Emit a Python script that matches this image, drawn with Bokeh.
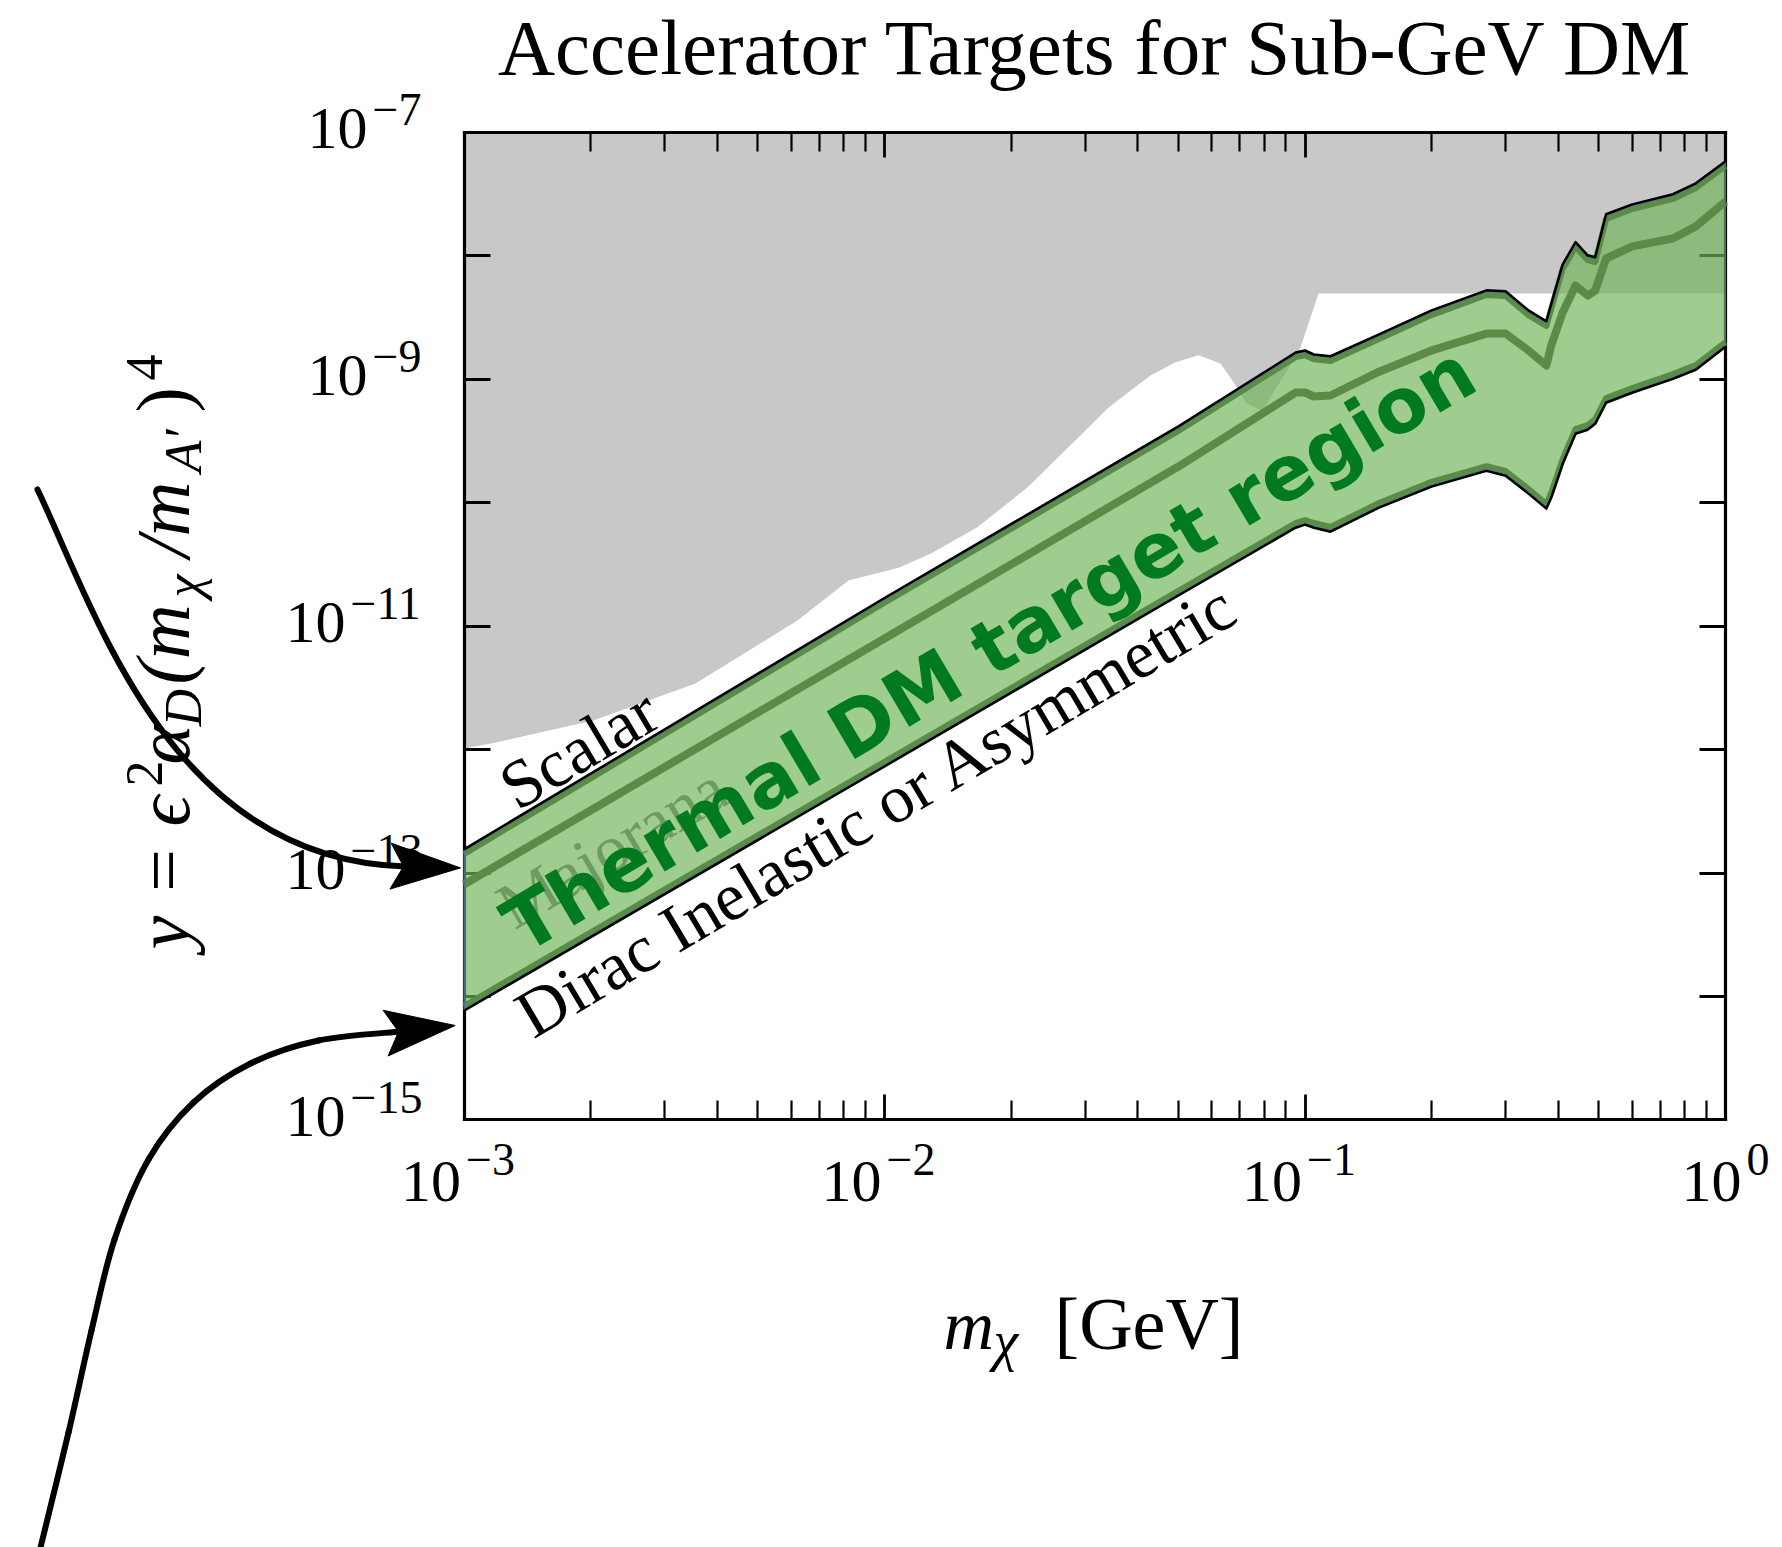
import math

from bokeh.embed import file_html
from bokeh.models import (ColumnDataSource, CustomJSTickFormatter, FixedTicker,
                          Label, LogAxis, Range1d)
from bokeh.plotting import figure
from bokeh.resources import INLINE

# ------------------------------------------------------------------ data
# Dark-matter mass m_chi [GeV]
mass = [0.001, 0.01, 0.05, 0.095, 0.1, 0.105, 0.115, 0.15, 0.2, 0.27, 0.3,
        0.34, 0.375, 0.385, 0.41, 0.44, 0.47, 0.49, 0.52, 0.6, 0.75, 0.85, 1.0]

# Thermal-relic targets y = eps^2 alpha_D (m_chi / m_A')^4
y_scalar = [1.52e-13, 1.65e-11, 4.06e-10, 1.61e-9, 1.67e-9, 1.55e-9, 1.50e-9,
            2.26e-9, 3.53e-9, 5.13e-9, 5.04e-9, 3.53e-9, 2.88e-9, 3.95e-9,
            8.34e-9, 1.26e-8, 9.86e-9, 9.50e-9, 2.12e-8, 2.55e-8, 3.08e-8,
            3.78e-8, 5.69e-8]
y_majorana = [8.07e-14, 7.94e-12, 1.96e-10, 7.80e-10, 7.80e-10, 7.24e-10,
              7.38e-10, 1.15e-9, 1.71e-9, 2.34e-9, 2.34e-9, 1.71e-9, 1.29e-9,
              1.87e-9, 3.47e-9, 5.74e-9, 4.76e-9, 5.22e-9, 9.50e-9, 1.19e-8,
              1.38e-8, 1.73e-8, 2.75e-8]
y_dirac = [7.83e-15, 7.46e-13, 1.81e-11, 6.41e-11, 6.78e-11, 6.41e-11,
           5.95e-11, 9.31e-11, 1.38e-10, 1.85e-10, 1.69e-10, 1.21e-10,
           9.15e-11, 1.12e-10, 2.11e-10, 3.70e-10, 3.98e-10, 4.45e-10,
           6.59e-10, 7.94e-10, 1.03e-9, 1.22e-9, 1.87e-9]

# Lower edge of the region already excluded by accelerator searches
excl_mass = [0.001, 0.00116, 0.00203, 0.00355, 0.00621, 0.00821, 0.01085,
             0.0129, 0.0166, 0.0219, 0.0289, 0.0341, 0.0429, 0.0492, 0.0558,
             0.0630, 0.0684, 0.0726, 0.0792, 0.0970, 0.1077, 1.0]
excl_y = [1.02e-12, 1.12e-12, 1.72e-12, 3.43e-12, 1.11e-11, 2.34e-11,
          2.98e-11, 3.87e-11, 6.29e-11, 1.33e-10, 3.37e-10, 5.90e-10,
          1.07e-9, 1.37e-9, 1.56e-9, 1.34e-9, 8.89e-10, 6.35e-10,
          5.58e-10, 1.71e-9, 4.95e-9, 4.95e-9]

# Axis limits and decades
X_MIN, X_MAX = 1e-3, 1.0
Y_MIN, Y_MAX = 1e-15, 1e-7
x_decades = [-3, -2, -1, 0]
y_decades = list(range(-15, -6))
y_labelled = [-15, -13, -11, -9, -7]

# ------------------------------------------------------------------ layout
W, H = 1782, 1547
PLOT_L, PLOT_R, PLOT_T, PLOT_B = 463.5, 1725.0, 131.8, 1119.4
XDEC = (PLOT_R - PLOT_L) / (math.log10(X_MAX) - math.log10(X_MIN))
YDEC = (PLOT_B - PLOT_T) / (math.log10(Y_MAX) - math.log10(Y_MIN))


def sx(v):
    return PLOT_L + (math.log10(v) - math.log10(X_MIN)) * XDEC


def sy(v):
    return PLOT_T + (math.log10(Y_MAX) - math.log10(v)) * YDEC


def xd(px):
    return 10 ** (math.log10(X_MIN) + (px - PLOT_L) / XDEC)


def yd(py):
    return 10 ** (math.log10(Y_MAX) - (py - PLOT_T) / YDEC)


GREY = "#c8c8c8"
BAND = "#70b358"
DARK = "#5a8c48"
EDGE_BLUE = "#3d68a8"
TEXT_GREEN = "#007a1e"
SERIF = "Liberation Serif"
SANS = "DejaVu Sans"

p = figure(width=W, height=H, x_axis_type="log", y_axis_type="log",
           x_axis_location=None, y_axis_location=None,
           x_range=Range1d(xd(0), xd(W)), y_range=Range1d(yd(H), yd(0)),
           output_backend="svg", toolbar_location=None, min_border=0,
           title=None)
p.outline_line_color = None
p.background_fill_color = "white"
p.border_fill_color = "white"
p.grid.visible = False

# ------------------------------------------------------------------ frame axes
x_minor = [k * 10.0 ** d for d in (-3, -2, -1) for k in range(2, 10)]


def frame_axis(side, loc, bounds, ticks, minor, tick_len):
    ax = LogAxis(fixed_location=loc, bounds=bounds,
                 ticker=FixedTicker(ticks=ticks, minor_ticks=minor),
                 formatter=CustomJSTickFormatter(code="return ''"),
                 axis_line_color="black", axis_line_width=3.2,
                 axis_line_cap="square",
                 major_tick_in=tick_len, major_tick_out=0,
                 major_tick_line_width=2.8, major_tick_line_color="black",
                 minor_tick_in=19, minor_tick_out=0,
                 minor_tick_line_width=2.2, minor_tick_line_color="black",
                 level="underlay")
    p.add_layout(ax, side)


y_ticks = [10.0 ** e for e in y_decades]
x_ticks = [10.0 ** e for e in x_decades]
frame_axis("left", X_MIN, (Y_MIN, Y_MAX), y_ticks, [], 26)
frame_axis("right", X_MAX, (Y_MIN, Y_MAX), y_ticks, [], 26)
frame_axis("below", Y_MIN, (X_MIN, X_MAX), x_ticks, x_minor, 25)
frame_axis("above", Y_MAX, (X_MIN, X_MAX), x_ticks, x_minor, 25)

# ------------------------------------------------------------------ excluded region
grey = p.patch(excl_mass + [X_MAX, X_MIN], excl_y + [Y_MAX, Y_MAX],
               fill_color=GREY, line_color=None)
grey.level = "image"

# ------------------------------------------------------------------ thermal band
k_out = 10 ** (1.2 / YDEC)
k_in = 10 ** (3.5 / YDEC)
band = ColumnDataSource(dict(
    m=mass, lo=y_dirac, mid=y_majorana, hi=y_scalar,
    hi_out=[v * k_out for v in y_scalar], lo_out=[v / k_out for v in y_dirac],
    hi_in=[v / k_in for v in y_scalar], lo_in=[v * k_in for v in y_dirac]))

p.varea(x="m", y1="lo", y2="hi", source=band, fill_color=BAND, fill_alpha=0.67)
for col in ("hi_in", "lo_in"):
    p.line("m", col, source=band, line_color=DARK, line_width=6,
           line_join="round")
p.line("m", "mid", source=band, line_color=DARK, line_width=8, line_join="round")
for col in ("hi", "lo"):
    p.line("m", col, source=band, line_color=EDGE_BLUE, line_width=1.2)
for col in ("hi_out", "lo_out"):
    p.line("m", col, source=band, line_color="black", line_width=2.5,
           line_join="round")
p.segment(x0=[mass[0], mass[-1]], y0=[y_dirac[0], y_dirac[-1]],
          x1=[mass[0], mass[-1]], y1=[y_scalar[0], y_scalar[-1]],
          line_color=EDGE_BLUE, line_width=1.2)


# ------------------------------------------------------------------ texts
def label(px, py, text, size, font=SERIF, style="normal", align="left",
          angle=0.0, color="black", alpha=1.0):
    # (px, py) is the start of the baseline; the label is anchored on the
    # middle of its line box, which sits about 0.34 em above the baseline
    k = 0.34 * size
    ax = px - k * math.sin(angle)
    ay = py - k * math.cos(angle)
    p.add_layout(Label(x=xd(ax), y=yd(ay), text=text, text_font=font,
                       text_font_size=f"{size}px", text_font_style=style,
                       text_align=align, text_baseline="middle",
                       angle=angle, text_color=color, text_alpha=alpha))


def exponent(e):
    return ("\u2212" if e < 0 else "") + str(abs(e))


label(1095, 74, "Accelerator Targets for Sub-GeV DM", 79, align="center")

# tick labels: "10" with a raised exponent
W10 = 59
for e in x_decades:
    t = sx(10.0 ** e)
    w_exp = (38 if e < 0 else 0) + 22 * len(str(abs(e)))
    split = t - (W10 + 5 + w_exp) / 2 + W10
    label(split, PLOT_B + 82, "10", 60, align="right")
    label(split + 5, PLOT_B + 55, exponent(e), 46)

for e in y_labelled:
    t = sy(10.0 ** e)
    w_exp = (38 if e < 0 else 0) + 22 * len(str(abs(e)))
    split = PLOT_L - 36.5 - w_exp
    label(split, t + 17, "10", 60, align="right")
    label(split + 5, t - 7, exponent(e), 46)

# x-axis title
label(943, 1349, "m", 70, style="italic")
label(993, 1360, "\u03c7", 56, style="italic")
label(1054, 1349, "[GeV]", 74)

# y-axis title, read bottom to top
up = math.pi / 2
for text, start, kind in [("y = \u03f5", 949, "base"), ("2", 786, "sup"),
                          ("\u03b1", 764, "base"), ("D", 726, "sub"),
                          ("(m", 684, "base"), ("\u03c7", 597, "sub"),
                          ("/m", 557, "base"), ("A\u2032", 472, "sub"),
                          (")", 412, "base"), ("4", 380, "sup")]:
    bx = {"base": 188, "sup": 162, "sub": 201}[kind]
    size = 76 if kind == "base" else 52
    style = "normal" if text in ("2", "4", ")") else "italic"
    label(bx, start, text, size, style=style, angle=up)

# band annotations follow the slope of the band on screen
slope = ((math.log10(y_scalar[2]) - math.log10(y_scalar[0]))
         / (math.log10(mass[2]) - math.log10(mass[0])))
band_angle = math.atan(slope * YDEC / XDEC)

label(517, 811, "Scalar", 68, angle=band_angle)
label(514, 930, "Majorana", 66, angle=band_angle, color="#5f8a55", alpha=0.75)
label(533, 1039, "Dirac Inelastic or Asymmetric", 68, angle=band_angle)
label(523, 954, "Thermal DM target region", 76, font=SANS, style="bold",
      angle=band_angle, color=TEXT_GREEN)


# ------------------------------------------------------------------ arrows
def smooth_segments(pts):
    # Catmull-Rom path through the given points, as cubic Bezier pieces
    ext = [pts[0]] + list(pts) + [pts[-1]]
    segs = []
    for i in range(1, len(ext) - 2):
        a, b, c, d = ext[i - 1], ext[i], ext[i + 1], ext[i + 2]
        c1 = (b[0] + (c[0] - a[0]) / 6, b[1] + (c[1] - a[1]) / 6)
        c2 = (c[0] - (d[0] - b[0]) / 6, c[1] - (d[1] - b[1]) / 6)
        segs.append((b, c1, c2, c))
    return segs


def curved_arrow(segments, head_len=70, head_w=23, notch=13, tip_gap=55):
    r = p.bezier(x0=[xd(s[0][0]) for s in segments],
                 y0=[yd(s[0][1]) for s in segments],
                 cx0=[xd(s[1][0]) for s in segments],
                 cy0=[yd(s[1][1]) for s in segments],
                 cx1=[xd(s[2][0]) for s in segments],
                 cy1=[yd(s[2][1]) for s in segments],
                 x1=[xd(s[3][0]) for s in segments],
                 y1=[yd(s[3][1]) for s in segments],
                 line_color="black", line_width=6, line_cap="round")
    r.level = "overlay"
    c1, p1 = segments[-1][2], segments[-1][3]
    dx, dy = p1[0] - c1[0], p1[1] - c1[1]
    norm = math.hypot(dx, dy)
    ux, uy = dx / norm, dy / norm
    nx, ny = -uy, ux
    tx, ty = p1[0] + tip_gap * ux, p1[1] + tip_gap * uy
    pts = [(tx, ty),
           (tx - head_len * ux + head_w * nx, ty - head_len * uy + head_w * ny),
           (tx - (head_len - notch) * ux, ty - (head_len - notch) * uy),
           (tx - head_len * ux - head_w * nx, ty - head_len * uy - head_w * ny)]
    h = p.patch([xd(a) for a, _ in pts], [yd(b) for _, b in pts],
                fill_color="black", line_color="black", line_width=1)
    h.level = "overlay"


curved_arrow([((37, 489), (95, 610), (170, 860), (405, 866))])
curved_arrow(smooth_segments([(40, 1547), (68, 1432), (91, 1330), (114, 1239),
                              (148, 1159), (193, 1102), (250, 1063),
                              (318, 1040), (400, 1031)]))

open("out.html", "w").write(file_html(p, INLINE))
